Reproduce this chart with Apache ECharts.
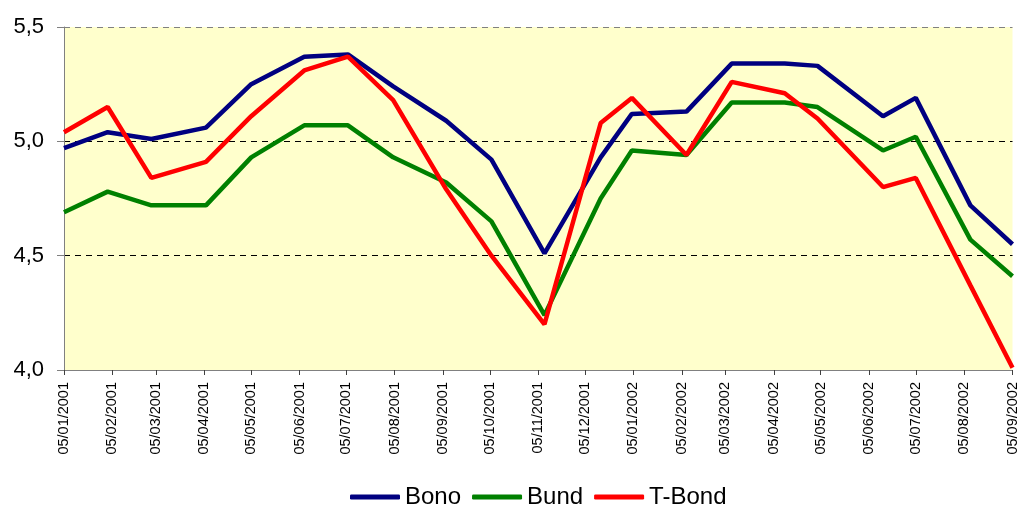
<!DOCTYPE html>
<html>
<head>
<meta charset="utf-8">
<style>
  html, body { margin: 0; padding: 0; background: #fff; }
  #chart { width: 1020px; height: 506px; }
</style>
<script src="https://cdn.jsdelivr.net/npm/echarts@6/dist/echarts.min.js"></script>
</head>
<body>
<div id="chart"></div>
<script>
// Observation dates of the yields
const obsDates = [
  '2001-01-05', '2001-02-02', '2001-03-02', '2001-04-06', '2001-05-05', '2001-06-08',
  '2001-07-06', '2001-08-04', '2001-09-07', '2001-10-06', '2001-11-09', '2001-12-15',
  '2002-01-04', '2002-02-08', '2002-03-09', '2002-04-12', '2002-05-03', '2002-06-14',
  '2002-07-05', '2002-08-09', '2002-09-05'
];

// 10-year government bond yields (%)
const bono  = [4.97, 5.04, 5.01, 5.06, 5.25, 5.37, 5.38, 5.24, 5.09, 4.92, 4.51, 4.93, 5.12, 5.13, 5.34, 5.34, 5.33, 5.11, 5.19, 4.72, 4.55];
const bund  = [4.69, 4.78, 4.72, 4.72, 4.93, 5.07, 5.07, 4.93, 4.82, 4.65, 4.24, 4.75, 4.96, 4.94, 5.17, 5.17, 5.15, 4.96, 5.02, 4.57, 4.41];
const tbond = [5.04, 5.15, 4.84, 4.91, 5.11, 5.31, 5.37, 5.18, 4.79, 4.50, 4.20, 5.08, 5.19, 4.94, 5.26, 5.21, 5.10, 4.80, 4.84, 4.37, 4.01];

// Monthly tick labels on the date axis
const tickLabels = [
  '05/01/2001', '05/02/2001', '05/03/2001', '05/04/2001', '05/05/2001', '05/06/2001',
  '05/07/2001', '05/08/2001', '05/09/2001', '05/10/2001', '05/11/2001', '05/12/2001',
  '05/01/2002', '05/02/2002', '05/03/2002', '05/04/2002', '05/05/2002', '05/06/2002',
  '05/07/2002', '05/08/2002', '05/09/2002'
];

const seriesNames = ['Bono', 'Bund', 'T-Bond'];

// Dates are measured in whole days on a linear axis
const DAY = 86400000;
function dayNumber(y, m, d) { return Math.round(Date.UTC(y, m - 1, d) / DAY); }
function parseIso(s) { const p = s.split('-').map(Number); return dayNumber(p[0], p[1], p[2]); }
function parseDmy(s) { const p = s.split('/').map(Number); return dayNumber(p[2], p[1], p[0]); }

const tickValues = tickLabels.map(parseDmy);
const labelByDay = {};
tickValues.forEach((v, i) => { labelByDay[v] = tickLabels[i]; });
const xs = obsDates.map(parseIso);
const pairs = arr => arr.map((v, i) => [xs[i], v]);

const FONT = "'Liberation Sans', Arial, sans-serif";

const chart = echarts.init(document.getElementById('chart'), null, { renderer: 'canvas' });

function lineSeries(name, data, color) {
  return {
    name: name,
    type: 'line',
    data: pairs(data),
    symbol: 'none',
    showSymbol: false,
    lineStyle: { color: color, width: 4.5 },
    itemStyle: { color: color },
    emphasis: { disabled: true },
    animation: false
  };
}

chart.setOption({
  animation: false,
  textStyle: { fontFamily: FONT },
  grid: {
    left: 64, right: 6, top: 27, bottom: 136,
    show: true,
    backgroundColor: '#FFFFCC',
    borderWidth: 0
  },
  legend: {
    data: seriesNames,
    left: 350,
    top: 485,
    padding: 0,
    icon: 'roundRect',
    itemWidth: 50,
    itemHeight: 5,
    itemGap: 11,
    itemStyle: { borderWidth: 0 },
    textStyle: { fontSize: 24, color: '#000', fontFamily: FONT }
  },
  xAxis: {
    type: 'value',
    min: tickValues[0],
    max: tickValues[tickValues.length - 1],
    axisLine: { show: true, onZero: false, lineStyle: { color: '#808080', width: 1 } },
    axisTick: {
      show: true,
      customValues: tickValues,
      length: 5,
      lineStyle: { color: '#404040', width: 1 }
    },
    axisLabel: {
      customValues: tickValues,
      rotate: 90,
      margin: 12,
      fontSize: 14.5,
      color: '#000',
      fontFamily: FONT,
      formatter: v => labelByDay[v] || ''
    },
    splitLine: { show: false }
  },
  yAxis: {
    type: 'value',
    min: 4,
    max: 5.5,
    interval: 0.5,
    axisLine: { show: true, onZero: false, lineStyle: { color: '#808080', width: 1 } },
    axisTick: { show: true, length: 7, lineStyle: { color: '#808080' } },
    axisLabel: {
      margin: 20,
      fontSize: 22,
      color: '#000',
      fontFamily: FONT,
      formatter: v => v.toFixed(1).replace('.', ',')
    },
    splitLine: {
      show: true,
      lineStyle: { color: ['#000', '#000', '#000', '#808080'], type: [6, 5], width: 1 }
    }
  },
  series: [
    lineSeries('Bono', bono, '#000080'),
    lineSeries('Bund', bund, '#008000'),
    lineSeries('T-Bond', tbond, '#FF0000')
  ]
});
</script>
</body>
</html>
